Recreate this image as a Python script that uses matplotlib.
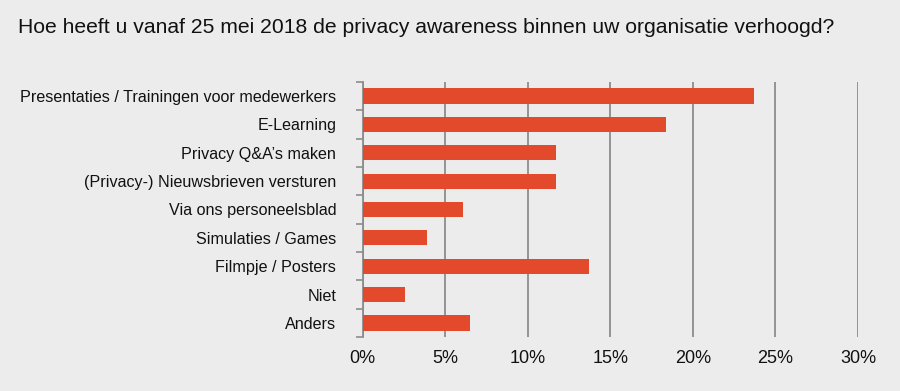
#!/usr/bin/env python3

import matplotlib

matplotlib.use("Agg")
import matplotlib.pyplot as plt
import numpy as np

categories = [
    "Presentaties / Trainingen voor medewerkers",
    "E-Learning",
    "Privacy Q&A’s maken",
    "(Privacy-) Nieuwsbrieven versturen",
    "Via ons personeelsblad",
    "Simulaties / Games",
    "Filmpje / Posters",
    "Niet",
    "Anders",
]
percentages = [23.7, 18.4, 11.7, 11.7, 6.1, 3.9, 13.7, 2.6, 6.5]
x_ticks = [0, 5, 10, 15, 20, 25, 30]
x_tick_labels = ["0%", "5%", "10%", "15%", "20%", "25%", "30%"]
title = "Hoe heeft u vanaf 25 mei 2018 de privacy awareness binnen uw organisatie verhoogd?"

BG = "#ececec"
BAR = "#e34a2c"
GRID = "#8c8c8c"

plt.rcParams["font.family"] = ["Liberation Sans", "DejaVu Sans"]

fig = plt.figure(figsize=(9, 3.91), dpi=100, facecolor=BG)
ax = fig.add_axes([0.4028, 0.1376, 0.5505, 0.6532], facecolor=BG)

y = np.arange(len(categories))
ax.barh(y, percentages, height=0.53, color=BAR, zorder=3)

ax.set_xlim(0, 30)
ax.set_ylim(len(categories) - 0.5, -0.5)

ax.set_xticks(x_ticks)
ax.set_xticklabels(x_tick_labels, fontsize=13, color="#111111")
ax.tick_params(axis="x", length=0, pad=9)
ax.xaxis.grid(True, color=GRID, linewidth=1.3, zorder=1)

# category labels centred on bars, tick marks on the boundaries
ax.set_yticks(y)
ax.set_yticklabels(categories, fontsize=11.6, color="#111111")
ax.tick_params(axis="y", which="major", length=0, pad=19)
ax.set_yticks(np.arange(len(categories) + 1) - 0.5, minor=True)
ax.tick_params(axis="y", which="minor", length=5, width=1.2, color=GRID, direction="out")

for side in ["top", "right", "bottom"]:
    ax.spines[side].set_visible(False)
ax.spines["left"].set_color(GRID)
ax.spines["left"].set_linewidth(1.3)

fig.text(0.02, 0.93, title, fontsize=15.2, color="#111111", va="center", ha="left")

fig.savefig("out.png", dpi=100, facecolor=BG)
